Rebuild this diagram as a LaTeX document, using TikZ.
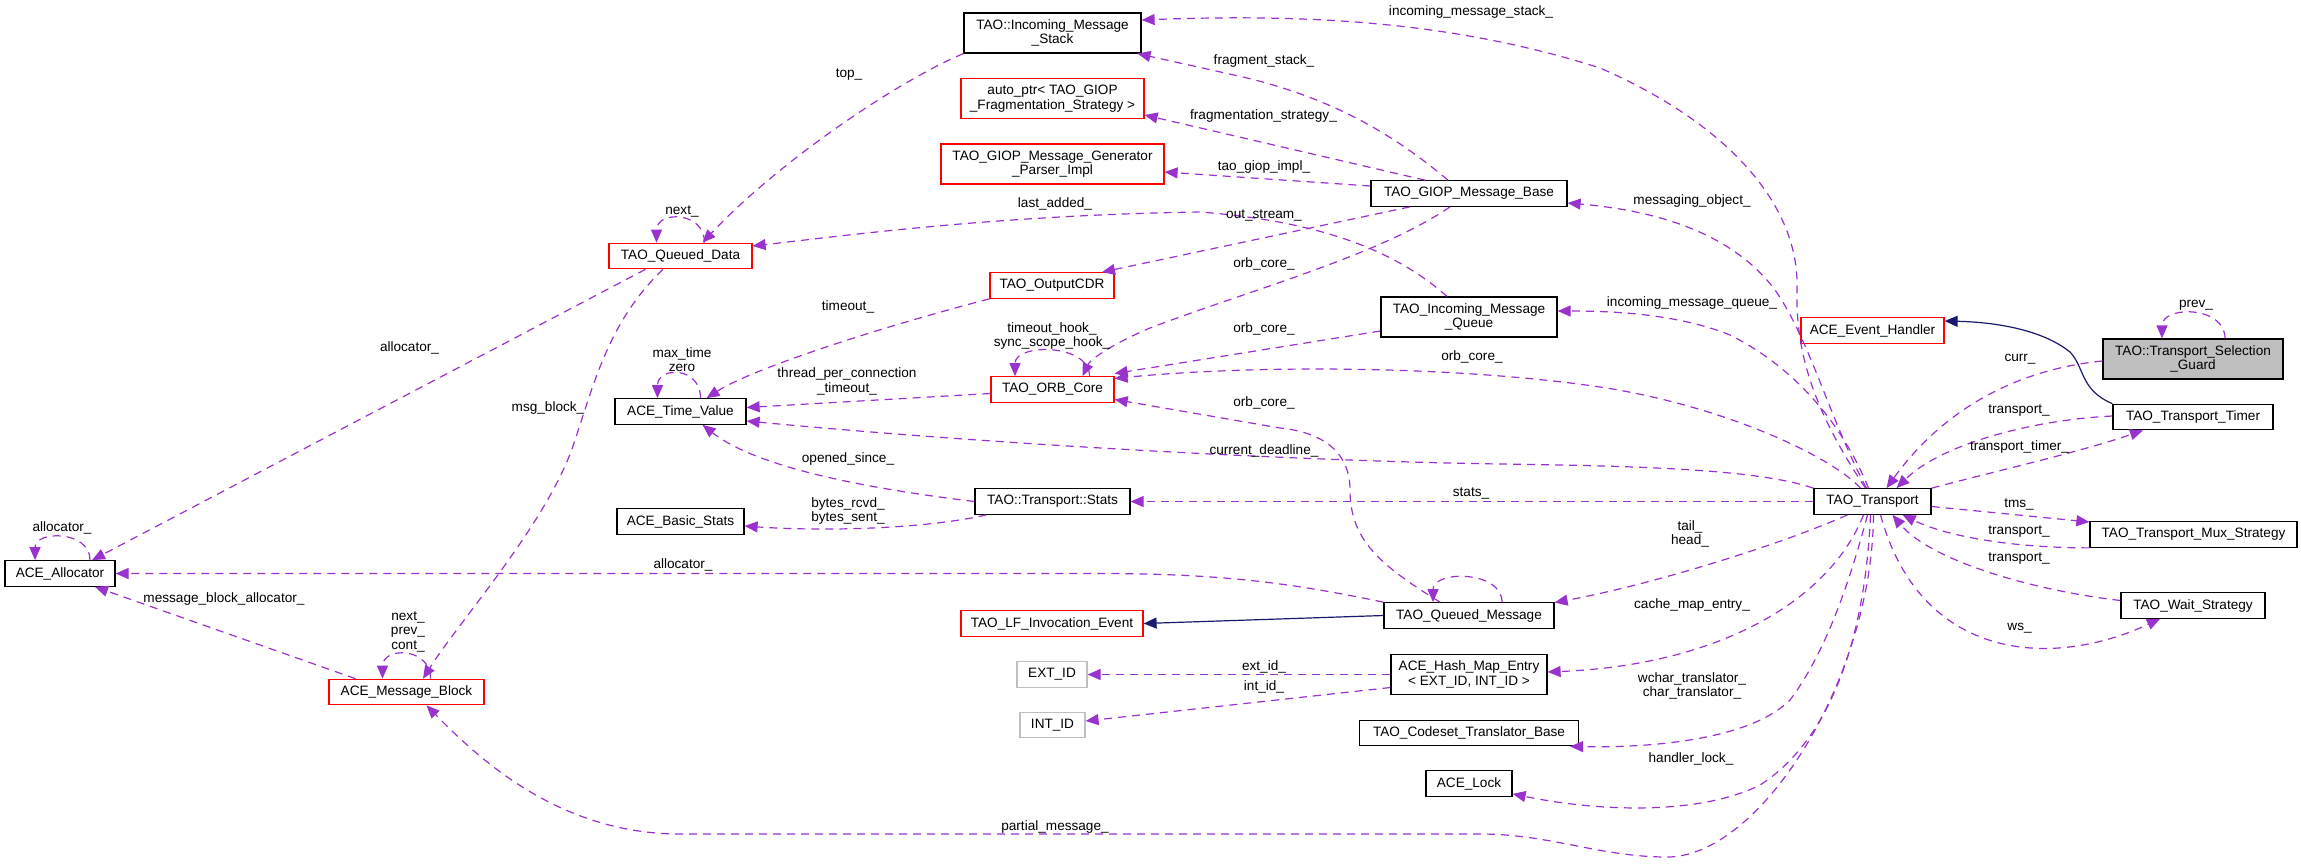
\documentclass[tikz,border=0pt]{standalone}
\usepackage{fontspec}
\setmainfont{Liberation Sans}
\usetikzlibrary{arrows.meta}

\definecolor{memcol}{HTML}{9A32CD}
\definecolor{inhcol}{HTML}{191970}
\definecolor{guardgrey}{HTML}{BFBFBF}

\begin{document}
\begin{tikzpicture}[x=1pt, y=-1pt,
  cls/.style={draw, line width=1.2pt, minimum height=25.5pt, inner xsep=4pt, inner ysep=2pt, align=center, font=\fontsize{13.6}{14.5}\selectfont},
  redcls/.style={cls, draw=red},
  greycls/.style={cls, draw=black!25},
  member/.style={memcol, line width=1.2pt, dash pattern=on 8pt off 6pt, -{Triangle[length=13pt,width=11pt]}},
  inherit/.style={inhcol, line width=1.2pt, -{Triangle[length=13pt,width=11pt]}},
  lbl/.style={inner sep=0pt, align=center, font=\fontsize{13.6}{14.5}\selectfont}]
\useasboundingbox (0,0) rectangle (2301,863);

\node [cls, minimum width=110pt] (alloc) at (60,573.5) {ACE\_Allocator};
\node [redcls, minimum width=155pt] (msgblk) at (406.5,692) {ACE\_Message\_Block};
\node [redcls, minimum width=143pt] (qdata) at (680.5,256) {TAO\_Queued\_Data};
\node [cls, minimum width=131pt] (timev) at (680.5,411.5) {ACE\_Time\_Value};
\node [cls, minimum width=127pt] (bstats) at (680.5,521.5) {ACE\_Basic\_Stats};
\node [cls, minimum width=177pt, minimum height=40pt] (imstack) at (1052.5,33) {TAO::Incoming\_Message\\\_Stack};
\node [redcls, minimum width=183pt, minimum height=40pt] (fragst) at (1052.5,98.5) {auto\_ptr< TAO\_GIOP\\\_Fragmentation\_Strategy >};
\node [redcls, minimum width=223pt, minimum height=40pt] (parser) at (1052.5,164) {TAO\_GIOP\_Message\_Generator\\\_Parser\_Impl};
\node [redcls, minimum width=124pt] (ocdr) at (1052,285.5) {TAO\_OutputCDR};
\node [redcls, minimum width=123pt] (orb) at (1052.5,389.5) {TAO\_ORB\_Core};
\node [cls, minimum width=155pt] (tstats) at (1052.5,501.5) {TAO::Transport::Stats};
\node [redcls, minimum width=182pt] (lfev) at (1052,623.5) {TAO\_LF\_Invocation\_Event};
\node [greycls, minimum width=70pt] (extid) at (1052,674.5) {EXT\_ID};
\node [greycls, minimum width=65pt] (intid) at (1052.5,725) {INT\_ID};
\node [cls, minimum width=196pt] (gmb) at (1469,193.5) {TAO\_GIOP\_Message\_Base};
\node [cls, minimum width=176pt, minimum height=40pt] (imqueue) at (1469,317) {TAO\_Incoming\_Message\\\_Queue};
\node [cls, minimum width=170pt] (qmsg) at (1469,615.5) {TAO\_Queued\_Message};
\node [cls, minimum width=156pt, minimum height=40pt] (hmap) at (1469,674.5) {ACE\_Hash\_Map\_Entry\\< EXT\_ID, INT\_ID >};
\node [cls, minimum width=219pt] (codeset) at (1469,733) {TAO\_Codeset\_Translator\_Base};
\node [cls, minimum width=86pt] (lock) at (1469,783.5) {ACE\_Lock};
\node [redcls, minimum width=143pt] (evh) at (1872.5,330.5) {ACE\_Event\_Handler};
\node [cls, minimum width=117pt] (trans) at (1872.5,501.5) {TAO\_Transport};
\node [cls, fill=guardgrey, minimum width=180pt, minimum height=40pt] (guard) at (2193,359) {TAO::Transport\_Selection\\\_Guard};
\node [cls, minimum width=160pt] (timer) at (2193,417) {TAO\_Transport\_Timer};
\node [cls, minimum width=207pt] (mux) at (2193.5,534.5) {TAO\_Transport\_Mux\_Strategy};
\node [cls, minimum width=144pt] (wait) at (2193,605.5) {TAO\_Wait\_Strategy};

\draw[member] ([xshift=30pt]alloc.north) .. controls +(0,-30) and +(0,-30) .. ([xshift=-25pt]alloc.north);
\draw[member] ([xshift=-35pt]qdata.south) -- ([xshift=32pt]alloc.north);
\draw[member] ([xshift=-51pt]msgblk.north) -- ([xshift=35pt]alloc.south);
\draw[member] (qmsg.north west) .. controls (1300,585) and (1230,573.5) .. (1100,573.5) -- (alloc.east);
\draw[member] ([xshift=24pt]msgblk.north) .. controls +(0,-32) and +(0,-32) .. ([xshift=-24pt]msgblk.north);
\draw[member] ([xshift=-17.5pt]qdata.south) .. controls (610,320) and (595,380) .. (575,440) .. controls (550,520) and (460,620) .. ([xshift=16.5pt]msgblk.north);
\draw[member] ([xshift=24pt]qdata.north) .. controls +(0,-32) and +(0,-32) .. ([xshift=-24pt]qdata.north);
\draw[member] (imstack.south west) .. controls (900,80) and (780,160) .. ([xshift=22pt]qdata.north);
\draw[member] ([xshift=-22pt]imqueue.north) .. controls (1400,255) and (1330,222) .. (1200,212) .. controls (1000,215) and (850,235) .. ([yshift=10pt]qdata.east);
\draw[member] ([xshift=-59pt]gmb.south) -- ([xshift=50pt]ocdr.north);
\draw[member] ([xshift=-19pt]gmb.south) .. controls (1380,255) and (1250,290) .. (1150,328) .. controls (1110,345) and (1090,360) .. ([xshift=30pt]orb.north);
\draw[member] ([yshift=7.5pt]gmb.west) -- ([yshift=-8pt]parser.east);
\draw[member] ([xshift=-44pt]gmb.north) -- ([yshift=-16.5pt]fragst.east);
\draw[member] ([xshift=-21pt]gmb.north) .. controls (1400,140) and (1340,100) .. (1243,77) -- ([xshift=85pt]imstack.south);
\draw[member] ([xshift=-7pt]trans.north) .. controls (1820,420) and (1795,360) .. (1797,290) .. controls (1800,200) and (1720,120) .. (1600,68) .. controls (1450,20) and (1300,14) .. ([yshift=13pt]imstack.east);
\draw[member] ([xshift=-6pt]trans.north) .. controls (1830,420) and (1810,340) .. (1775,290) .. controls (1730,230) and (1650,210) .. ([yshift=-9.5pt]gmb.east);
\draw[member] ([xshift=-4pt]trans.north) .. controls (1845,430) and (1800,370) .. (1730,335) .. controls (1680,315) and (1620,311) .. ([yshift=6pt]imqueue.east);
\draw[member] ([xshift=-12pt]trans.north) .. controls (1830,455) and (1720,405) .. (1600,387) .. controls (1450,365) and (1250,365) .. ([yshift=11pt]orb.east);
\draw[member] ([yshift=-14pt]imqueue.west) -- ([yshift=16pt]orb.east);
\draw[member] ([xshift=-29pt]qmsg.north) .. controls (1380,565) and (1350,540) .. (1350,490) .. controls (1350,450) and (1320,432) .. (1280,428) -- ([yshift=-10pt]orb.east);
\draw[member] ([xshift=37pt]orb.north) .. controls +(0,-33) and +(0,-33) .. ([xshift=-37.5pt]orb.north);
\draw[member] ([yshift=-4pt]orb.west) -- ([yshift=4pt]timev.east);
\draw[member] (ocdr.south west) .. controls (870,330) and (750,370) .. ([xshift=26pt]timev.north);
\draw[member] ([xshift=20pt]timev.north) .. controls +(0,-32) and +(0,-32) .. ([xshift=-23pt]timev.north);
\draw[member] (tstats.west) .. controls (880,490) and (760,470) .. ([xshift=22pt]timev.south);
\draw[member] ([xshift=12pt]tstats.south west) .. controls (930,528) and (830,532) .. ([yshift=-4.5pt]bstats.east);
\draw[member] (trans.north west) .. controls (1760,470) and (1650,466) .. (1500,464) .. controls (1300,461) and (1000,445) .. ([yshift=-9.5pt]timev.east);
\draw[member] (trans.west) -- (tstats.east);
\draw[inherit] (qmsg.west) -- (lfev.east);
\draw[member] ([xshift=33pt]qmsg.north) .. controls +(0,-32) and +(0,-32) .. ([xshift=-36pt]qmsg.north);
\draw[member] ([xshift=-25pt]trans.south) .. controls (1780,545) and (1650,585) .. ([yshift=13pt]qmsg.east);
\draw[member] ([xshift=-9pt]trans.south) .. controls (1830,600) and (1720,665) .. ([yshift=2.5pt]hmap.east);
\draw[member] (hmap.west) -- (extid.east);
\draw[member] ([yshift=-13pt]hmap.west) -- ([yshift=4pt]intid.east);
\draw[member] ([xshift=-5pt]trans.south) .. controls (1845,600) and (1820,660) .. (1790,700) .. controls (1750,740) and (1650,748) .. ([xshift=-9pt]codeset.south east);
\draw[member] ([xshift=-2pt]trans.south) .. controls (1865,640) and (1830,740) .. (1760,785) .. controls (1700,815) and (1600,812) .. ([yshift=3pt]lock.south east);
\draw[member] ([xshift=1pt]trans.south) .. controls (1872,680) and (1760,857) .. (1667,857) .. controls (1600,857) and (1550,834) .. (1480,834) -- (680,834) .. controls (560,834) and (480,760) .. ([xshift=20pt]msgblk.south);
\draw[inherit] (timer.north west) .. controls (2080,390) and (2085,368) .. (2070,352) .. controls (2040,328) and (1990,322) .. ([yshift=9.5pt]evh.east);
\draw[member] ([xshift=32pt]guard.north) .. controls +(0,-33) and +(0,-33) .. ([xshift=-31pt]guard.north);
\draw[member] ([yshift=-2pt]guard.west) .. controls (2030,368) and (1950,400) .. ([xshift=14pt]trans.north);
\draw[member] ([yshift=1pt]timer.west) .. controls (2030,420) and (1940,445) .. ([xshift=24pt]trans.north);
\draw[member] (trans.north east) .. controls (2000,470) and (2080,452) .. ([xshift=-50pt]timer.south);
\draw[member] ([yshift=-5pt]trans.east) -- ([yshift=12.5pt]mux.west);
\draw[member] (mux.south west) .. controls (2020,548) and (1950,538) .. ([xshift=30pt]trans.south);
\draw[member] ([yshift=5pt]wait.west) .. controls (2030,590) and (1930,560) .. ([xshift=20pt]trans.south);
\draw[member] ([xshift=8pt]trans.south) .. controls (1920,660) and (2050,670) .. ([xshift=-33pt]wait.south);

\node [lbl] (l1) at (62,527.5) {allocator\_};
\node [lbl] (l2) at (409.5,348) {allocator\_};
\node [lbl] (l3) at (224,599) {message\_block\_allocator\_};
\node [lbl] (l4) at (683,565) {allocator\_};
\node [lbl] (l5) at (408,631.5) {next\_\\prev\_\\cont\_};
\node [lbl] (l6) at (548,408) {msg\_block\_};
\node [lbl] (l7) at (682,211) {next\_};
\node [lbl] (l8) at (849,75) {top\_};
\node [lbl] (l9) at (1055,204) {last\_added\_};
\node [lbl] (l10) at (1264,215) {out\_stream\_};
\node [lbl] (l11) at (1264,264) {orb\_core\_};
\node [lbl] (l12) at (1264,167) {tao\_giop\_impl\_};
\node [lbl] (l13) at (1263.5,116) {fragmentation\_strategy\_};
\node [lbl] (l14) at (1264,61) {fragment\_stack\_};
\node [lbl] (l15) at (1471,12) {incoming\_message\_stack\_};
\node [lbl] (l16) at (1692,201) {messaging\_object\_};
\node [lbl] (l17) at (1692,303) {incoming\_message\_queue\_};
\node [lbl] (l18) at (1472,357) {orb\_core\_};
\node [lbl] (l19) at (1264,329) {orb\_core\_};
\node [lbl] (l20) at (1264,403) {orb\_core\_};
\node [lbl] (l21) at (1052,336) {timeout\_hook\_\\sync\_scope\_hook\_};
\node [lbl] (l22) at (847,381.5) {thread\_per\_connection\\\_timeout\_};
\node [lbl] (l23) at (848,307) {timeout\_};
\node [lbl] (l24) at (682,359.5) {max\_time\\zero};
\node [lbl] (l25) at (848,459) {opened\_since\_};
\node [lbl] (l26) at (848,511) {bytes\_rcvd\_\\bytes\_sent\_};
\node [lbl] (l27) at (1264,451) {current\_deadline\_};
\node [lbl] (l28) at (1471,493) {stats\_};
\node [lbl] (l29) at (1690,534) {tail\_\\head\_};
\node [lbl] (l30) at (1692,605) {cache\_map\_entry\_};
\node [lbl] (l31) at (1264,667) {ext\_id\_};
\node [lbl] (l32) at (1264,687) {int\_id\_};
\node [lbl] (l33) at (1692,686) {wchar\_translator\_\\char\_translator\_};
\node [lbl] (l34) at (1691,759) {handler\_lock\_};
\node [lbl] (l35) at (1055,827) {partial\_message\_};
\node [lbl] (l36) at (2196,305.5) {prev\_};
\node [lbl] (l37) at (2020,359) {curr\_};
\node [lbl] (l38) at (2019,411) {transport\_};
\node [lbl] (l39) at (2019.5,447) {transport\_timer\_};
\node [lbl] (l40) at (2019,504) {tms\_};
\node [lbl] (l41) at (2019,532) {transport\_};
\node [lbl] (l42) at (2019,559) {transport\_};
\node [lbl] (l43) at (2019.5,628) {ws\_};
\end{tikzpicture}
\end{document}
